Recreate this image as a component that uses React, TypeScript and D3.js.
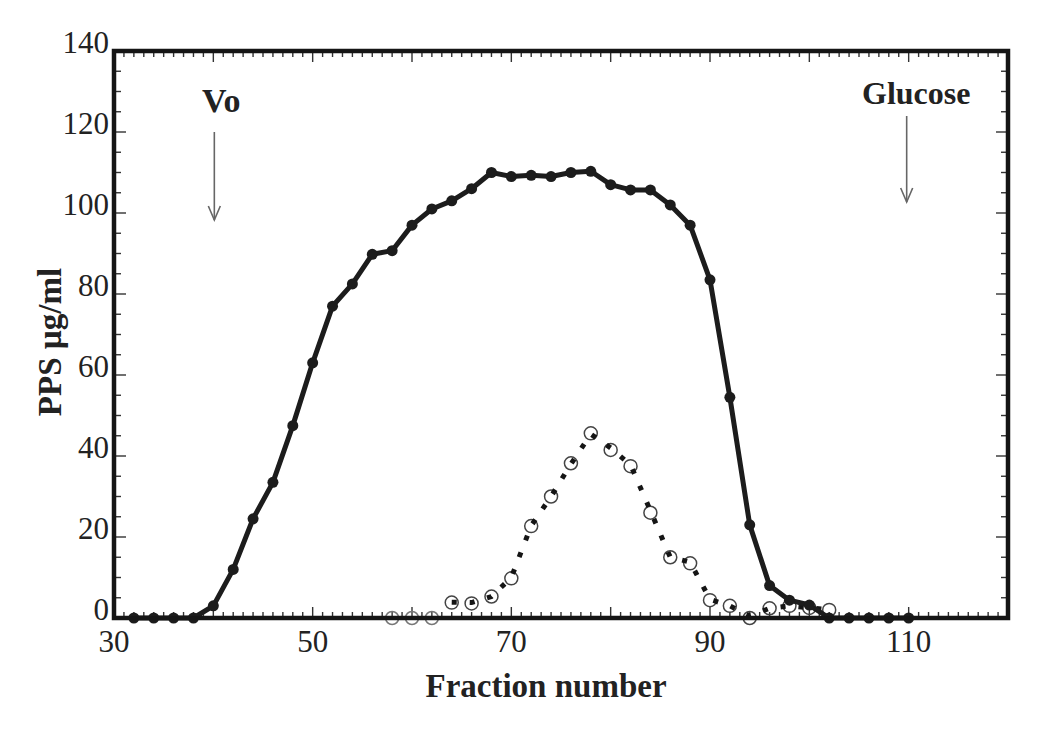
import React from "react";
import * as d3 from "d3";

// solid curve, filled circles (every 2nd fraction)
const solidFractions = [32, 34, 36, 38, 40, 42, 44, 46, 48, 50, 52, 54, 56, 58, 60, 62, 64, 66, 68, 70, 72, 74, 76, 78, 80, 82, 84, 86, 88, 90, 92, 94, 96, 98, 100, 102, 104, 106, 108, 110];
const solidValues = [0, 0, 0, 0, 3, 12, 24.5, 33.5, 47.5, 63, 77, 82.5, 89.8, 90.7, 97, 101, 103, 106, 110, 109, 109.3, 109, 110, 110.3, 107, 105.7, 105.7, 102, 97, 83.5, 54.5, 23, 8, 4.4, 3.2, 0, 0, 0, 0, 0];

// open circles
const circleFractions = [58, 60, 62, 64, 66, 68, 70, 72, 74, 76, 78, 80, 82, 84, 86, 88, 90, 92, 94, 96, 98, 100, 102];
const circleValues = [0, 0, 0, 3.8, 3.6, 5.3, 9.8, 22.7, 30, 38.2, 45.6, 41.5, 37.5, 26, 15, 13.5, 4.4, 3, 0, 2.4, 3, 2.5, 2];

// dotted curve
const dottedFractions = [64, 66, 68, 70, 72, 74, 76, 78, 80, 82, 84, 86, 88, 90, 92, 94, 96, 98, 100, 102];
const dottedValues = [3.9, 3.8, 5.3, 10, 22.8, 30, 38, 45.4, 42, 37.8, 26.5, 15, 13.8, 4.6, 3, 0.5, 2.4, 3, 2.5, 2];

const xLabels = [30, 50, 70, 90, 110];
const yLabels = [0, 20, 40, 60, 80, 100, 120, 140];

const W = 1045;
const H = 733;
const serif = "'Liberation Serif', 'Times New Roman', serif";

export default function App() {
  const x = d3.scaleLinear().domain([30, 120]).range([114, 1008]);
  const y = d3.scaleLinear().domain([0, 140]).range([618, 51]);

  const line = d3.line<[number, number]>().x(d => x(d[0])).y(d => y(d[1]));
  const solidPts = solidFractions.map((f, i) => [f, solidValues[i]] as [number, number]);
  const dottedPts = dottedFractions.map((f, i) => [f, dottedValues[i]] as [number, number]);

  const xMinor = d3.range(30, 121, 1);
  const yMinor = d3.range(0, 141, 5);
  const [x0, x1] = x.range();
  const [y0, y1] = y.range();

  const tickColor = "#333";

  return (
    <svg width={W} height={H} style={{ position: "absolute", left: 0, top: 0, background: "#fff" }}>
      <rect width={W} height={H} fill="#fff" />

      {/* x ticks, bottom and top, inward */}
      {xMinor.map(v => {
        const major = v % 10 === 0;
        const len = major ? 11 : 6;
        return (
          <g key={`xt${v}`} stroke={tickColor} strokeWidth={1.4}>
            <line x1={x(v)} x2={x(v)} y1={y0} y2={y0 - len} />
            <line x1={x(v)} x2={x(v)} y1={y1} y2={y1 + len} />
          </g>
        );
      })}
      {/* y ticks, left and right, inward */}
      {yMinor.map(v => {
        const major = v % 20 === 0;
        const len = major ? 12 : 7;
        return (
          <g key={`yt${v}`} stroke={tickColor} strokeWidth={1.4}>
            <line x1={x0} x2={x0 + len} y1={y(v)} y2={y(v)} />
            <line x1={x1} x2={x1 - len} y1={y(v)} y2={y(v)} />
          </g>
        );
      })}

      {/* tick labels */}
      {xLabels.map(v => (
        <text key={`xl${v}`} x={x(v)} y={652} textAnchor="middle" fontFamily={serif} fontSize={31} fill="#222">
          {v}
        </text>
      ))}
      {yLabels.map(v => (
        <text key={`yl${v}`} x={109} y={y(v) + 2} textAnchor="end" fontFamily={serif} fontSize={31} fill="#222">
          {v}
        </text>
      ))}

      {/* axis titles */}
      <text x={546} y={697} textAnchor="middle" fontFamily={serif} fontSize={33} fontWeight="bold" fill="#222">
        Fraction number
      </text>
      <text
        transform={`translate(61, 342) rotate(-90)`}
        textAnchor="middle"
        fontFamily={serif}
        fontSize={33}
        fontWeight="bold"
        fill="#222"
      >
        PPS µg/ml
      </text>

      {/* annotations */}
      <text x={202} y={112} fontFamily={serif} fontSize={34} fontWeight="bold" fill="#222">
        Vo
      </text>
      <g stroke="#666" strokeWidth={1.6} fill="none">
        <line x1={x(40.1)} x2={x(40.1)} y1={132} y2={220} />
        <polyline points={`${x(40.1) - 6},${206} ${x(40.1)},${220} ${x(40.1) + 6},${206}`} />
      </g>
      <text x={862} y={104} fontFamily={serif} fontSize={32} fontWeight="bold" fill="#222">
        Glucose
      </text>
      <g stroke="#666" strokeWidth={1.6} fill="none">
        <line x1={x(109.8)} x2={x(109.8)} y1={116} y2={202} />
        <polyline points={`${x(109.8) - 6},${188} ${x(109.8)},${202} ${x(109.8) + 6},${188}`} />
      </g>

      {/* open circles */}
      {circleFractions.map((f, i) => (
        <circle
          key={`c${f}`}
          cx={x(f)}
          cy={y(circleValues[i])}
          r={6.5}
          fill="none"
          stroke={f < 63 ? "#777" : "#444"}
          strokeWidth={1.5}
        />
      ))}

      {/* dotted curve */}
      <path d={line(dottedPts) || ""} fill="none" stroke="#151515" strokeWidth={5} strokeDasharray="5 13" />

      {/* solid curve */}
      <path d={line(solidPts) || ""} fill="none" stroke="#1c1c1c" strokeWidth={5} strokeLinejoin="round" />
      {solidPts.map(d => (
        <circle key={`s${d[0]}`} cx={x(d[0])} cy={y(d[1])} r={5.5} fill="#1c1c1c" />
      ))}

      {/* frame */}
      <rect x={x0} y={y1} width={x1 - x0} height={y0 - y1} fill="none" stroke="#151515" strokeWidth={4.5} />
    </svg>
  );
}
